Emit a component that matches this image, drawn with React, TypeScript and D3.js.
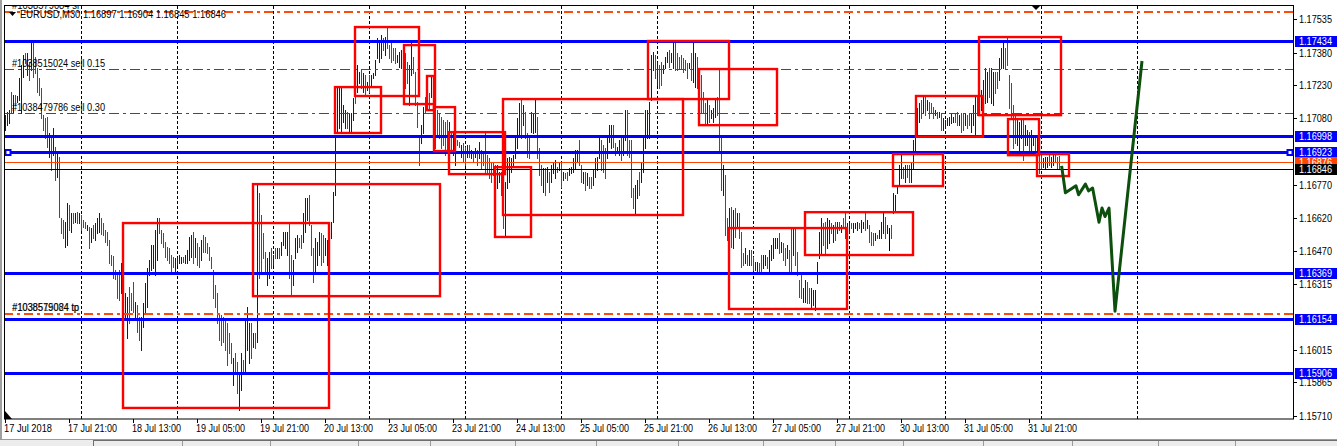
import React from "react";
import * as d3 from "d3";

// ---------- DATA (prices stored as points: price = 1 + pts / 100000) ----------
const symbolTitle = "EURUSD,M30";
const lastOHLC = [1.16897, 1.16904, 1.16845, 1.16846];

const barHighPts = [
  17093,17107,17116,17199,17185,17185,17181,17263,17323,17369,
  17378,17378,17332,17424,17438,17360,17309,17263,17217,17093,
  17080,17084,17011,17001,17034,16946,16919,16900,16620,16611,
  16601,16689,16680,16643,16643,16643,16647,16643,16634,16611,
  16601,16588,16578,16574,16588,16597,16620,16643,16620,16597,
  16565,16555,16519,16450,16445,16381,16367,16381,16413,16321,
  16275,16257,16303,16275,16326,16234,16220,16165,16165,16229,
  16321,16390,16427,16496,16496,16565,16620,16620,16565,16551,
  16510,16487,16482,16450,16441,16436,16441,16450,16441,16441,
  16450,16473,16533,16542,16555,16528,16505,16487,16519,16542,
  16533,16505,16487,16441,16381,16312,16275,16183,16174,16165,
  16151,16137,16091,16045,15976,15999,15958,15907,15999,15967,
  16151,16211,16137,16137,16091,16091,16781,16735,16634,16551,
  16464,16436,16464,16482,16450,16482,16482,16482,16510,16555,
  16555,16555,16597,16450,16427,16528,16542,16528,16542,16643,
  16712,16712,16726,16588,16482,16528,16510,16555,16551,16542,
  16528,16519,16464,16601,16739,17001,17222,17222,17222,17139,
  17116,17107,17103,17103,17171,17268,17323,17291,17300,17286,
  17277,17245,17277,17277,17286,17346,17447,17424,17461,17447,
  17452,17493,17415,17424,17401,17401,17369,17383,17392,17378,
  17378,17337,17323,17424,17360,17291,17153,16988,17047,17130,
  17176,17222,17194,17277,17263,17139,17116,17103,17084,17070,
  17061,17070,17061,17015,17011,17001,16978,16969,16955,16965,
  16946,16955,16955,16932,16923,16942,16932,16969,16932,16919,
  17011,16909,16896,16877,16877,16863,16863,16831,16831,16873,
  16785,16896,16900,16896,16909,16988,17080,17149,17167,17139,
  17107,17011,17001,17107,17103,17171,17084,16942,16863,16850,
  16850,16854,16831,16863,16873,16886,16854,16877,16877,16831,
  16827,16831,16850,16854,16896,16932,16932,16978,16863,16831,
  16831,16827,16808,16808,16841,16896,16900,17001,16978,16955,
  16942,16988,17047,17047,17047,16965,16946,16978,16992,17001,
  17116,17116,16978,16978,16758,16772,16795,16831,16877,16988,
  17116,17116,17153,17369,17383,17369,17337,17323,17337,17323,
  17360,17383,17392,17378,17438,17429,17378,17360,17369,17355,
  17346,17332,17332,17378,17429,17378,17360,17300,17277,17199,
  17149,17162,17139,17116,17126,17171,17176,17309,16992,16863,
  16818,16620,16666,16670,16657,16666,16643,16643,16555,16459,
  16482,16450,16473,16473,16441,16418,16418,16413,16450,16450,
  16450,16441,16473,16496,16528,16528,16528,16551,16510,16505,
  16482,16496,16473,16574,16574,16574,16464,16335,16372,16298,
  16335,16326,16298,16298,16289,16289,16418,16555,16620,16597,
  16601,16620,16611,16597,16588,16601,16601,16601,16588,16620,
  16643,16597,16597,16597,16597,16597,16601,16597,16611,16601,
  16643,16611,16588,16555,16551,16551,16542,16565,16601,16643,
  16624,16588,16574,16588,16735,16726,16762,16863,16919,16854,
  16863,16863,16863,16873,16978,17061,17126,17149,17162,17176,
  17176,17162,17153,17149,17130,17116,17107,17107,17103,17080,
  17070,17080,17084,17103,17084,17103,17107,17093,17103,17103,
  17103,17093,17103,17103,17139,17176,17185,17153,17208,17254,
  17309,17291,17309,17309,17291,17291,17291,17355,17401,17424,
  17401,17447,17277,17240,17139,17103,17070,17061,17070,17080,
  17047,17024,17015,17024,17001,17001,16988,16919,16909,16896,
  16900,16900,16909,16900,16919,16909,16900,16904,
];

const barLowPts = [
  17024,17047,17057,17103,17107,17139,17153,17162,17103,17268,
  17332,17277,17254,17300,17268,17286,17199,17185,17080,17024,
  16988,16946,16900,16841,16909,16795,16808,16624,16551,16528,
  16487,16496,16565,16555,16597,16601,16597,16597,16565,16578,
  16574,16565,16482,16510,16528,16519,16551,16555,16546,16542,
  16510,16496,16413,16404,16344,16339,16252,16243,16275,16243,
  16151,16068,16137,16197,16188,16151,16096,16059,16013,16119,
  16183,16211,16358,16381,16390,16358,16427,16551,16505,16487,
  16441,16427,16413,16372,16395,16372,16404,16413,16413,16418,
  16413,16413,16427,16441,16413,16441,16404,16395,16427,16464,
  16464,16459,16427,16390,16252,16211,16137,16059,16036,16050,
  16013,15944,15999,15953,15852,15907,15815,15737,15829,15907,
  15912,16013,15953,15976,16027,16022,16050,16344,16372,16436,
  16372,16312,16344,16390,16404,16436,16436,16436,16450,16496,
  16482,16450,16344,16266,16312,16436,16464,16487,16482,16510,
  16555,16611,16588,16450,16326,16367,16404,16450,16404,16418,
  16450,16404,16372,16528,16601,16726,17011,17034,17011,17061,
  17034,17034,17015,17011,17070,17149,17199,17240,17217,17199,
  17185,17208,17199,17222,17263,17277,17355,17337,17355,17392,
  17369,17401,17355,17337,17346,17332,17337,17314,17309,17309,
  17217,17240,17139,17277,17286,17139,17038,16863,16965,17011,
  17107,17116,17116,17176,17047,16942,17001,16988,16942,16955,
  16909,16932,16909,16923,16909,16863,16955,16946,16900,16877,
  16863,16900,16900,16896,16877,16900,16863,16896,16850,16863,
  16831,16831,16804,16785,16818,16818,16758,16785,16726,16574,
  16542,16758,16785,16831,16854,16896,16942,17001,16988,17047,
  16988,16900,16896,17015,17011,17015,16896,16818,16772,16739,
  16726,16785,16739,16785,16827,16804,16831,16841,16762,16795,
  16804,16795,16818,16827,16831,16850,16877,16863,16785,16781,
  16749,16772,16758,16758,16772,16808,16841,16896,16841,16831,
  16804,16896,16969,16942,16946,16909,16919,16909,16886,16909,
  16978,16909,16900,16716,16666,16634,16712,16726,16785,16831,
  16942,16988,16988,17162,17300,17263,17231,17217,17231,17286,
  17309,17337,17314,17337,17309,17300,17300,17309,17309,17291,
  17300,17263,17309,17254,17245,17222,17217,17162,17103,17103,
  17057,17047,17061,17080,17061,17084,17093,16919,16749,16726,
  16542,16519,16528,16487,16482,16533,16574,16528,16395,16404,
  16413,16404,16404,16404,16381,16381,16372,16372,16372,16390,
  16404,16390,16372,16427,16436,16482,16482,16459,16464,16427,
  16404,16436,16367,16367,16450,16404,16358,16257,16252,16234,
  16234,16229,16229,16211,16220,16197,16321,16436,16450,16496,
  16450,16482,16505,16551,16510,16519,16551,16565,16555,16578,
  16528,16542,16555,16574,16555,16574,16565,16574,16555,16574,
  16565,16574,16510,16496,16496,16519,16528,16528,16528,16551,
  16528,16551,16473,16528,16643,16647,16735,16772,16804,16804,
  16785,16808,16785,16785,16850,16919,17001,17061,17080,17103,
  17093,17116,17080,17103,17080,17093,17080,17084,17024,17024,
  17034,17047,17047,17057,17061,17061,17047,17047,17015,17024,
  17047,17034,17047,17015,17047,17001,17093,17103,17116,17093,
  17149,17153,17176,17149,17139,17194,17217,17254,17309,17309,
  17309,17323,17126,17080,16942,16965,16955,16909,16988,16886,
  16955,16955,16919,16923,16955,16932,16919,16827,16850,16854,
  16850,16854,16863,16854,16863,16877,16850,16845,
];

// u = bullish (blue), d = bearish (red), 0 = unchanged (black)
const barDirection = (
  "uuududuuuu dududddddd ddudududdd uududududd dududuuudd ddddddddud uudddudduu uuuuuuuddd " +
  "ddddduuuud uuuududdud dddddddddd ddddudduud uuudududdd duudududuu uudduuuddu uuddduuudd " +
  "uuduuuuuuu uduuuduudu duduuuuuud uddddduuuu dduudddduu dddudddddd dduduuddud dududududd " +
  "dddddduudd uuuuuuuudu ddduuudddu duduuududu dduuuuuddu dudduuuudd duuudduudu udddduuduu " +
  "uuuuududdu uuduuddddd dduduudddd duduuudddu ddudududdd ududduuddu uduuuuudud dudduddddu " +
  "udduuuuuud duudududud duuduuuduu duddduduuu du0duuuuud udduuuuudu dudddududu uuuuuddudd " +
  "udduuuduuu uuduudduuu dddddduuud uuduududdu uuduuddd"
).replace(/ /g, "");

const timeLabels = [
  "17 Jul 2018", "17 Jul 21:00", "18 Jul 13:00", "19 Jul 05:00", "19 Jul 21:00",
  "20 Jul 13:00", "23 Jul 05:00", "23 Jul 21:00", "24 Jul 13:00", "25 Jul 05:00",
  "25 Jul 21:00", "26 Jul 13:00", "27 Jul 05:00", "27 Jul 21:00", "30 Jul 13:00",
  "31 Jul 05:00", "31 Jul 21:00",
];
const barsPerTimeLabel = 32;
const dayStartBars = [38, 86, 134, 182, 230, 278, 326, 374, 422, 470, 518, 566];

const priceTicks = [1.17535, 1.1738, 1.1723, 1.1708, 1.1677, 1.1662, 1.1647, 1.16315, 1.16015, 1.15865, 1.1571];

const levelPrices = [1.17434, 1.16998, 1.16923, 1.16369, 1.16154, 1.15906];
const stopPrices = [1.17567, 1.16179];
const stopLabels = [["#1038579084 sl"], ["#1038579084 tp", "#1038515024 tp"]];
const orderPrices = [1.17305, 1.17101];
const orderLabels = ["#1038515024 sell 0.15", "#1038479786 sell 0.30"];
const askPrice = 1.16876;
const bidPrice = 1.16846;

// zones: [startBar, endBar, topPts, bottomPts]
const zones = [
  [59, 162, 16597, 15747],
  [124, 217.5, 16776, 16261],
  [165, 188, 17222, 17011],
  [175, 207, 17498, 17181],
  [199.5, 215, 17415, 17144],
  [211, 214.5, 17273, 17116],
  [214.5, 225, 17130, 16928],
  [222, 250, 17015, 16822],
  [245, 263, 16854, 16533],
  [249, 339, 17167, 16634],
  [321.5, 362, 17434, 17167],
  [347, 386, 17305, 17047],
  [362, 421, 16574, 16202],
  [400, 454, 16647, 16450],
  [444, 469, 16914, 16767],
  [455.5, 489, 17181, 16994],
  [487, 528, 17452, 17093],
  [501.5, 517, 17075, 16909],
  [516, 532, 16914, 16813],
];

const forecastBars = [528.3, 530.2, 535.5, 536.8, 540.2, 541.8, 543.8, 547, 548.5, 550, 552, 555, 568.5];
const forecastPts = [16860, 16736, 16768, 16727, 16776, 16745, 16758, 16601, 16666, 16627, 16666, 16192, 17342];

// ---------- COMPONENT ----------
const FONT = "'Liberation Sans', Arial, sans-serif";

export default function App() {
  const W = 1337, H = 446;
  const L = 4, R = 1293, T = 6, B = 419;
  const toPrice = (pts: number) => 1 + pts / 100000;
  const x = d3.scaleLinear().domain([0, 644]).range([5, 1293]);
  const y = d3.scaleLinear().domain([1.1571, 1.17535]).range([416, 19]);
  const colorOf: Record<string, string> = { u: "#0000ff", d: "#ff0000", "0": "#000000" };
  const fmt = d3.format(".5f");

  const forecastLine = d3
    .line<number>()
    .x((_, i) => x(forecastBars[i]))
    .y((d) => y(toPrice(d)))(forecastPts);

  return (
    <svg
      width={W}
      height={H}
      style={{ position: "absolute", left: 0, top: 0, background: "#fff", fontFamily: FONT }}
    >
      <defs>
        <clipPath id="plot">
          <rect x={L} y={T} width={R - L} height={B - T} />
        </clipPath>
      </defs>
      <rect x={0} y={0} width={W} height={H} fill="#fff" />

      {/* window chrome */}
      <rect x={0} y={0} width={2} height={439} fill="#a0a0a0" />
      <rect x={0} y={439} width={W} height={7} fill="#ececec" />
      <line x1={0} x2={W} y1={439.5} y2={439.5} stroke="#9a9a9a" />
      <line x1={93} x2={W} y1={440.5} y2={440.5} stroke="#6e6e6e" />
      <line x1={93.5} x2={93.5} y1={440} y2={446} stroke="#6e6e6e" />
      {[182, 270, 358, 430, 515, 596, 678, 763, 835, 903, 983, 1072, 1158, 1235].map((sx) => (
        <line key={sx} x1={sx + 0.5} x2={sx + 0.5} y1={441} y2={446} stroke="#9a9a9a" />
      ))}

      <g clipPath="url(#plot)">
        {/* vertical grid */}
        {dayStartBars.map((b) => (
          <line
            key={b}
            x1={Math.round(x(b)) + 0.5}
            x2={Math.round(x(b)) + 0.5}
            y1={T}
            y2={B}
            stroke="#000"
            strokeDasharray="3,2"
          />
        ))}

        {/* bars */}
        {barHighPts.map((h, i) => {
          const y1 = Math.round(y(toPrice(h)));
          const y2 = Math.round(y(toPrice(barLowPts[i])));
          return (
            <rect
              key={i}
              x={Math.round(x(i))}
              y={y1}
              width={1}
              height={Math.max(1, y2 - y1 + 1)}
              fill={colorOf[barDirection[i]] || "#0000ff"}
              shapeRendering="crispEdges"
            />
          );
        })}

        {/* order lines (green dash-dot) */}
        {orderPrices.map((p) => (
          <line
            key={p}
            x1={L}
            x2={R}
            y1={Math.round(y(p)) + 0.5}
            y2={Math.round(y(p)) + 0.5}
            stroke="#008000"
            strokeWidth={1}
            strokeDasharray="10,4,3,4"
          />
        ))}

        {/* ask / bid */}
        <line x1={L} x2={R} y1={Math.round(y(askPrice)) + 0.5} y2={Math.round(y(askPrice)) + 0.5} stroke="#ff4500" />
        <line x1={L} x2={R} y1={Math.round(y(bidPrice)) + 0.5} y2={Math.round(y(bidPrice)) + 0.5} stroke="#000" />

        {/* sl / tp lines */}
        {stopPrices.map((p) => (
          <line
            key={p}
            x1={L}
            x2={R}
            y1={Math.round(y(p))}
            y2={Math.round(y(p))}
            stroke="#ff4a0a"
            strokeWidth={2}
            strokeDasharray="9,4,3,4"
          />
        ))}

        {/* blue levels */}
        {levelPrices.map((p) => (
          <line key={p} x1={L} x2={R} y1={Math.round(y(p)) + 0.5} y2={Math.round(y(p)) + 0.5} stroke="#0000ff" strokeWidth={3} />
        ))}
        {/* selection handles on one level */}
        {[L + 1, R - 6].map((hx) => (
          <rect key={hx} x={hx + 0.5} y={Math.round(y(levelPrices[2])) - 2} width={5} height={5} fill="#fff" stroke="#0000ff" strokeWidth={2} />
        ))}

        {/* zones */}
        {zones.map((z, k) => (
          <rect
            key={k}
            x={x(z[0])}
            y={y(toPrice(z[2]))}
            width={x(z[1]) - x(z[0])}
            height={y(toPrice(z[3])) - y(toPrice(z[2]))}
            fill="none"
            stroke="#ff0000"
            strokeWidth={2.4}
          />
        ))}

        {/* forecast path */}
        <path d={forecastLine || ""} fill="none" stroke="#0d4f0d" strokeWidth={3} strokeLinejoin="round" />

        {/* order labels */}
        {orderPrices.map((p, k) => (
          <text key={k} x={12} y={Math.round(y(p)) - 2} fontSize={10} fill="#000" textLength={93} lengthAdjust="spacingAndGlyphs">
            {orderLabels[k]}
          </text>
        ))}
        {stopPrices.map((p, k) =>
          stopLabels[k].map((s, j) => (
            <text key={k + "-" + j} x={12 + j * 0.5} y={Math.round(y(p)) - 3} fontSize={10} fill="#000" textLength={67} lengthAdjust="spacingAndGlyphs" opacity={j ? 0.6 : 1}>
              {s}
            </text>
          ))
        )}

        {/* header */}
        <polygon points="9,12 16,12 12.5,16" fill="#000" />
        <text x={20} y={18} fontSize={10} fill="#000" textLength={206} lengthAdjust="spacingAndGlyphs">
          {symbolTitle + "  " + lastOHLC.map(fmt).join(" ")}
        </text>
        <polygon points="1032,6 1040,6 1036,10" fill="#000" />
        <polygon points="5,411 5,419 12,419" fill="#000" />
      </g>

      {/* frame */}
      <rect x={L + 0.5} y={T - 0.5} width={R - L} height={B - T + 0.5} fill="none" stroke="#000" />

      {/* price axis */}
      {priceTicks.map((p) => {
        const py = Math.round(y(p));
        return (
          <g key={p}>
            <line x1={R} x2={R + 4} y1={py + 0.5} y2={py + 0.5} stroke="#000" />
            <text x={1299} y={py + 4} fontSize={10} fill="#000" textLength={33} lengthAdjust="spacingAndGlyphs">
              {fmt(p)}
            </text>
          </g>
        );
      })}
      {levelPrices.map((p) => {
        const py = Math.round(y(p));
        return (
          <g key={p}>
            <rect x={R + 2} y={py - 5} width={W - R - 2} height={11} fill="#0000ff" />
            <text x={1299} y={py + 4} fontSize={10} fill="#fff" textLength={33} lengthAdjust="spacingAndGlyphs">
              {fmt(p)}
            </text>
          </g>
        );
      })}
      {[
        { p: askPrice, bg: "#ff4500" },
        { p: bidPrice, bg: "#000" },
      ].map(({ p, bg }) => {
        const py = Math.round(y(p));
        return (
          <g key={p}>
            <rect x={R + 2} y={py - 5} width={W - R - 2} height={11} fill={bg} />
            <text x={1299} y={py + 4} fontSize={10} fill="#fff" textLength={33} lengthAdjust="spacingAndGlyphs">
              {fmt(p)}
            </text>
          </g>
        );
      })}

      {/* time axis */}
      {timeLabels.map((s, k) => {
        const tx = Math.round(x(k * barsPerTimeLabel));
        return (
          <g key={s}>
            <line x1={tx + 0.5} x2={tx + 0.5} y1={B} y2={B + 4} stroke="#000" />
            <text x={tx - 1} y={432} fontSize={10} fill="#000" textLength={k === 0 ? 48 : 49} lengthAdjust="spacingAndGlyphs">
              {s}
            </text>
          </g>
        );
      })}
    </svg>
  );
}
